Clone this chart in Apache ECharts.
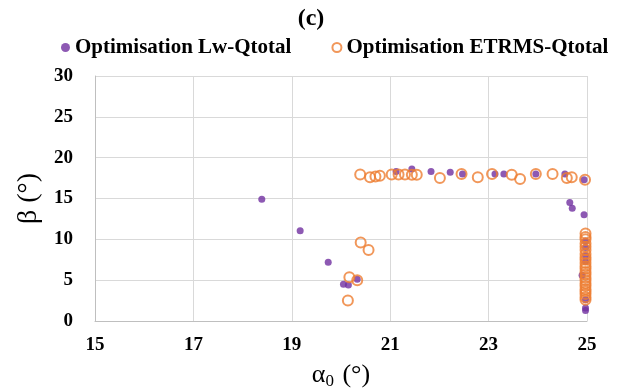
<!DOCTYPE html>
<html lang="en" style="height: 100%">
<head>
  <meta charset="utf-8">
</head>
<body style="height: 100%; margin: 0; background: #fff">
  <div id="container" style="width: 622px; height: 392px"></div>
  <script type="text/javascript" src="https://cdn.jsdelivr.net/npm/echarts@6/dist/echarts.min.js"></script>
  <script type="text/javascript">
    // Optimisation Lw-Qtotal (purple dots)
    var lwAlpha = [18.39, 19.17, 19.74, 20.05, 20.15, 20.33, 21.12, 21.44, 21.83, 22.22, 22.47, 23.13, 23.31,
      23.96, 24.55, 24.94, 24.65, 24.7, 24.94, 24.97, 24.97, 24.97, 24.97, 24.9, 24.97, 24.97, 24.97];
    var lwBeta = [14.9, 11.05, 7.2, 4.5, 4.4, 5.1, 18.3, 18.6, 18.3, 18.2, 18.0, 18.0, 18.0,
      18.0, 18.0, 17.3, 14.5, 13.8, 13.0, 9.8, 9.0, 8.0, 7.3, 5.6, 2.6, 1.6, 1.3];

    // Optimisation ETRMS-Qtotal (orange rings)
    var etAlpha = [20.14, 20.17, 20.33, 20.4, 20.56, 20.39, 20.59, 20.7, 20.79, 21.03, 21.17, 21.3, 21.44, 21.54,
      22.01, 22.45, 22.78, 23.07, 23.47, 23.64, 23.96, 24.3, 24.59, 24.69, 24.96,
      24.97, 24.97, 24.97, 24.97, 24.97, 24.97, 24.97, 24.97, 24.97, 24.97, 24.97, 24.97, 24.97,
      24.97, 24.97, 24.97, 24.97, 24.97, 24.97, 24.97, 24.97, 24.97, 24.97];
    var etBeta = [2.5, 5.35, 5.0, 9.6, 8.7, 17.95, 17.6, 17.7, 17.8, 17.95, 17.95, 17.95, 17.9, 17.9,
      17.5, 18.0, 17.6, 18.0, 17.9, 17.4, 18.0, 18.0, 17.5, 17.6, 17.3,
      10.7, 10.3, 10.0, 9.5, 9.1, 8.7, 8.2, 7.8, 7.5, 7.1, 6.7, 6.4, 6.0,
      5.7, 5.3, 5.0, 4.6, 4.3, 3.9, 3.6, 3.3, 2.9, 2.6];

    var xTicks = [15, 17, 19, 21, 23, 25];

    function pairs(xs, ys) {
      return xs.map(function (x, i) { return [x, ys[i]]; });
    }

    var serif = 'Liberation Serif';
    var dom = document.getElementById('container');
    var myChart = echarts.init(dom, null, { renderer: 'canvas' });

    var option = {
      backgroundColor: '#fff',
      animation: false,
      title: {
        text: '(c)',
        left: 'center',
        top: 2,
        textStyle: { fontFamily: serif, fontSize: 24, fontWeight: 'bold', color: '#000' }
      },
      legend: {
        top: 37,
        left: 61,
        width: 600,
        padding: 0,
        itemGap: 40,
        itemWidth: 9,
        itemHeight: 9,
        textStyle: { fontFamily: serif, fontSize: 21, fontWeight: 'bold', color: '#000' },
        data: [
          { name: 'Optimisation Lw-Qtotal', itemStyle: { color: '#7030A0' } },
          { name: 'Optimisation ETRMS-Qtotal' }
        ]
      },
      grid: { left: 95, right: 35, top: 76, bottom: 71, outerBoundsMode: 'none' },
      xAxis: {
        type: 'value',
        min: 15,
        max: 25,
        interval: 2,
        name: '{a|α}{s|0}{a| (°)}',
        nameLocation: 'middle',
        nameGap: 40,
        nameTextStyle: {
          rich: {
            a: { fontFamily: serif, fontSize: 26, color: '#000' },
            s: { fontFamily: serif, fontSize: 17, color: '#000', padding: [12, 2, 0, 0] }
          }
        },
        axisLine: { show: true, lineStyle: { color: '#bfbfbf' } },
        axisTick: { show: false },
        splitLine: { show: true, lineStyle: { color: '#d9d9d9', width: 1 } },
        axisLabel: {
          margin: 15,
          fontFamily: serif, fontSize: 19, fontWeight: 'bold', color: '#000',
          formatter: function (v) { return xTicks.indexOf(v) >= 0 ? String(v) : ''; }
        }
      },
      yAxis: {
        type: 'value',
        min: 0,
        max: 30,
        interval: 5,
        name: 'β (°)',
        nameLocation: 'middle',
        nameGap: 52,
        nameTextStyle: { fontFamily: serif, fontSize: 28, color: '#000' },
        axisLine: { show: true, lineStyle: { color: '#bfbfbf' } },
        axisTick: { show: false },
        splitLine: { show: true, lineStyle: { color: '#d9d9d9', width: 1 } },
        axisLabel: { margin: 22, fontFamily: serif, fontSize: 19, fontWeight: 'bold', color: '#000' }
      },
      series: [
        {
          name: 'Optimisation Lw-Qtotal',
          type: 'scatter',
          symbol: 'circle',
          symbolSize: 7,
          itemStyle: { color: '#7030A0' },
          data: pairs(lwAlpha, lwBeta),
          z: 2
        },
        {
          name: 'Optimisation ETRMS-Qtotal',
          type: 'scatter',
          symbol: 'circle',
          symbolSize: 10,
          itemStyle: { color: 'rgba(255,255,255,0)', borderColor: '#ED7D31', borderWidth: 2 },
          data: pairs(etAlpha, etBeta),
          z: 3
        }
      ]
    };

    myChart.setOption(option);
    window.addEventListener('resize', myChart.resize);
  </script>
</body>
</html>
